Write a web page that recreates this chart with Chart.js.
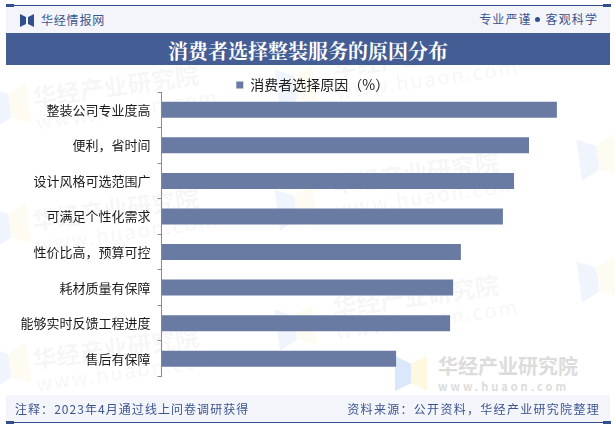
<!DOCTYPE html>
<html>
<head>
<meta charset="utf-8">
<script src="https://cdn.jsdelivr.net/npm/chart.js@4/dist/chart.umd.js"></script>
<style>
    html, body { margin: 0; padding: 0; background: #fff; }
    body { width: 615px; height: 427px; position: relative; overflow: hidden; font-family: "Noto Sans CJK SC", sans-serif; }
    .band { position: absolute; left: 6px; width: 604px; background: #f3f5fa; }
    .rule { position: absolute; left: 6px; width: 604px; height: 1px; background: #2f4f8f; }
    .cap { position: absolute; width: 8px; height: 3px; background: #2f4f8f; }
    .txt { position: absolute; color: #3b5590; font-size: 12px; line-height: 16px; white-space: nowrap; letter-spacing: 0.8px; }
    .dot { display: inline-block; width: 5px; height: 5px; border-radius: 50%; background: #2f4f8f; margin: 0 6px 2px 3px; vertical-align: middle; }
    .title { position: absolute; left: 6px; top: 33px; width: 604px; height: 32px; background: #445e95; color: #fff;
             font-family: "Noto Serif CJK SC", "Noto Sans CJK SC", serif; font-weight: bold; font-size: 20px; line-height: 36px; text-align: center; }
    .mark { position: absolute; color: rgba(120,120,120,0.07); font-weight: bold; font-size: 24px; line-height: 28px; white-space: nowrap; transform: rotate(-8deg); }
    .mark small { display: block; font-size: 20px; line-height: 22px; font-weight: normal; letter-spacing: 2px; }
    .logo { position: absolute; width: 32px; height: 35px; }
    .logo i { position: absolute; top: 0; width: 50%; height: 100%; }
    .logo i:first-child { left: 0; background: #dbe8fb; clip-path: polygon(0 0, 100% 22%, 100% 78%, 0 100%); }
    .logo i:last-child { right: 0; background: #fdf8df; clip-path: polygon(0 22%, 100% 0, 100% 100%, 0 78%); }
    .logo.faint { opacity: 0.4; transform: rotate(-8deg) scale(1.2); }
    canvas { position: absolute; left: 0; top: 0; }
</style>
</head>
<body>
    <div class="logo faint" style="left:-6px;top:88px"><i></i><i></i></div>
    <div class="logo faint" style="left:-6px;top:208px"><i></i><i></i></div>
    <div class="logo faint" style="left:-6px;top:348px"><i></i><i></i></div>
    <div class="logo faint" style="left:280px;top:70px"><i></i><i></i></div>
    <div class="logo faint" style="left:280px;top:190px"><i></i><i></i></div>
    <div class="logo faint" style="left:280px;top:310px"><i></i><i></i></div>
    <div class="logo faint" style="left:582px;top:140px"><i></i><i></i></div>
    <div class="logo faint" style="left:582px;top:262px"><i></i><i></i></div>

    <div class="mark" style="left:33px;top:70px">华经产业研究院<small>www.huaon.com</small></div>
    <div class="mark" style="left:33px;top:193px">华经产业研究院<small>www.huaon.com</small></div>
    <div class="mark" style="left:33px;top:332px">华经产业研究院<small>www.huaon.com</small></div>
    <div class="mark" style="left:333px;top:40px">华经产业研究院<small>www.huaon.com</small></div>
    <div class="mark" style="left:333px;top:157px">华经产业研究院<small>www.huaon.com</small></div>
    <div class="mark" style="left:333px;top:280px">华经产业研究院<small>www.huaon.com</small></div>

    <div class="logo" style="left:395px;top:356px"><i></i><i></i></div>
    <div style="position:absolute;left:438px;top:353px;color:#dcdcdc;font-weight:bold;font-size:20px;line-height:26px;white-space:nowrap">华经产业研究院</div>
    <div style="position:absolute;left:438px;top:379px;color:#dcdcdc;font-weight:bold;font-size:11px;line-height:14px;letter-spacing:3px;white-space:nowrap">www.huaon.com</div>

    <canvas id="chart" width="615" height="427"></canvas>

    <div class="band" style="top:6px;height:27px"></div>
    <div class="rule" style="top:5px"></div>
    <div class="cap" style="left:6px;top:4px"></div>
    <div class="cap" style="left:603px;top:4px"></div>
    <svg style="position:absolute;left:20px;top:14px" width="14" height="13"><path d="M0 0L6 3V10L0 13ZM14 0L8 3V10L14 13Z" fill="#2f4f8f"/></svg>
    <div class="txt" style="left:41px;top:12px">华经情报网</div>
    <div class="txt" style="right:17px;top:11px;letter-spacing:1.1px">专业严谨<span class="dot"></span>客观科学</div>
    <div class="title">消费者选择整装服务的原因分布</div>

    <div class="band" style="top:395px;height:27px"></div>
    <div class="rule" style="top:422px"></div>
    <div class="cap" style="left:6px;top:421px"></div>
    <div class="cap" style="left:603px;top:421px"></div>
    <div class="txt" style="left:15px;top:401px;letter-spacing:1.05px">注释：2023年4月通过线上问卷调研获得</div>
    <div class="txt" style="right:15px;top:401px;letter-spacing:1.3px">资料来源：公开资料，华经产业研究院整理</div>

<script>
// 数据
const categories = ['整装公司专业度高', '便利，省时间', '设计风格可选范围广', '可满足个性化需求', '性价比高，预算可控', '耗材质量有保障', '能够实时反馈工程进度', '售后有保障'];
const seriesName = '消费者选择原因（%）';
const seriesValues = [65.9, 61.25, 58.75, 56.9, 49.9, 48.6, 48.1, 39.1];

// 图例高度固定并略向右移，贴近原图位置
const legendPlace = {
    id: 'legendPlace',
    beforeInit: function(chart) {
        const fit = chart.legend.fit;
        chart.legend.fit = function() {
            fit.call(this);
            this.height = 15;
        };
    },
    afterLayout: function(chart) {
        chart.legend.left += 8;
        chart.legend.right += 8;
    }
};

document.addEventListener('DOMContentLoaded', function() {
    Chart.defaults.font.family = '"Noto Sans CJK SC", sans-serif';
    Chart.defaults.animation = false;

    new Chart(document.getElementById('chart').getContext('2d'), {
        type: 'bar',
        data: {
            labels: categories,
            datasets: [{
                label: seriesName,
                data: seriesValues,
                backgroundColor: '#697ba3',
                barPercentage: 0.45,
                categoryPercentage: 1
            }]
        },
        plugins: [legendPlace],
        options: {
            indexAxis: 'y',
            responsive: false,
            layout: { padding: { left: 16, right: 21.5, top: 77, bottom: 50.5 } },
            scales: {
                x: { display: false, min: 0, max: 72 },
                y: {
                    afterFit: function(axis) { axis.width = 145.5; },
                    grid: { drawOnChartArea: false, color: '#8c8c8c', tickLength: 4 },
                    border: { color: '#8c8c8c' },
                    ticks: { color: '#1a1a1a', font: { size: 13 }, padding: 7 }
                }
            },
            plugins: {
                legend: {
                    position: 'top',
                    labels: { boxWidth: 7, boxHeight: 7, color: '#1a1a1a', font: { size: 14 }, padding: 1 }
                },
                tooltip: { enabled: false }
            }
        }
    });
});
</script>
</body>
</html>
